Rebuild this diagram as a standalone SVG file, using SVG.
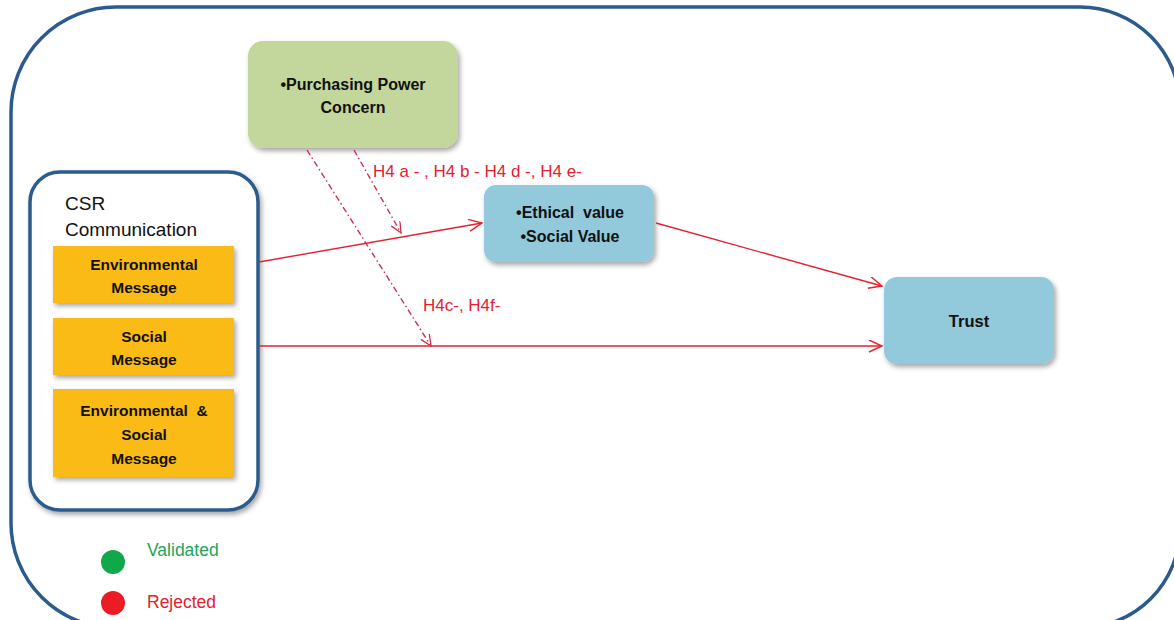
<svg xmlns="http://www.w3.org/2000/svg" width="1174" height="620" viewBox="0 0 1174 620">
<style>
.frame{fill:none;stroke:#2b5b8e;stroke-width:3.5}
.csr{fill:#ffffff;stroke:#2b5b8e;stroke-width:3.5}
.green{fill:#c3d69b}
.blue{fill:#92c9db}
.gold{fill:#fbbb14}
.bt{font-family:"Liberation Sans",Arial,sans-serif;font-weight:bold;fill:#111111;text-anchor:middle}
.rt{font-family:"Liberation Sans",Arial,sans-serif;fill:#111111}
.lab{font-family:"Liberation Sans",Arial,sans-serif;font-size:17px;fill:#e5202f}
.leg{font-family:"Liberation Sans",Arial,sans-serif;font-size:17.5px}
.solid{fill:none;stroke:#e5202f;stroke-width:1.4}
.dd{fill:none;stroke:#c8324e;stroke-width:1.4;stroke-dasharray:6 3 1.5 3}
</style>
<defs>
<filter id="sh" x="-10%" y="-10%" width="125%" height="130%">
<feDropShadow dx="2" dy="3" stdDeviation="2.5" flood-color="#000" flood-opacity="0.35"/>
</filter>
<marker id="ar" markerWidth="16" markerHeight="14" refX="14" refY="6" orient="auto" markerUnits="userSpaceOnUse">
<path d="M1,0 L14,6 L1,12" fill="none" stroke="#e5202f" stroke-width="1.4"/>
</marker>
<marker id="ard" markerWidth="14" markerHeight="12" refX="12" refY="5" orient="auto" markerUnits="userSpaceOnUse">
<path d="M1,0 L12,5 L1,10" fill="none" stroke="#c8324e" stroke-width="1.3"/>
</marker>
</defs>
<rect width="1174" height="620" fill="#ffffff"/>
<path class="frame" d="M11,112 A105,105 0 0 1 116,7 L1080,7 A100,100 0 0 1 1180,107 L1180,528 A100,100 0 0 1 1080,628 L116,628 A105,105 0 0 1 11,523 Z"/>

<g id="purchasing-power">
<rect class="green" x="248" y="41" width="210" height="107" rx="15" filter="url(#sh)"/>
<text class="bt" font-size="16" x="353" y="90">•Purchasing Power</text>
<text class="bt" font-size="16" x="353" y="113">Concern</text>
</g>

<g id="csr-communication">
<rect class="csr" x="30" y="172" width="228" height="338" rx="30" filter="url(#sh)"/>
<text class="rt" font-size="19" x="65" y="210">CSR</text>
<text class="rt" font-size="19" x="65" y="236">Communication</text>
</g>

<g id="environmental-message">
<rect class="gold" x="53" y="246" width="181" height="57" filter="url(#sh)"/>
<text class="bt" font-size="15.5" x="144" y="270">Environmental</text>
<text class="bt" font-size="15.5" x="144" y="293">Message</text>
</g>

<g id="social-message">
<rect class="gold" x="53" y="318" width="181" height="57" filter="url(#sh)"/>
<text class="bt" font-size="15.5" x="144" y="342">Social</text>
<text class="bt" font-size="15.5" x="144" y="365">Message</text>
</g>

<g id="env-social-message">
<rect class="gold" x="53" y="389" width="181" height="88" filter="url(#sh)"/>
<text class="bt" font-size="15.5" x="144" y="416" xml:space="preserve">Environmental  &amp;</text>
<text class="bt" font-size="15.5" x="144" y="440">Social</text>
<text class="bt" font-size="15.5" x="144" y="464">Message</text>
</g>

<g id="values">
<rect class="blue" x="484" y="185" width="170" height="77" rx="12" filter="url(#sh)"/>
<text class="bt" font-size="16" x="570" y="218" xml:space="preserve">•Ethical  value</text>
<text class="bt" font-size="16" x="570" y="242">•Social Value</text>
</g>

<g id="trust">
<rect class="blue" x="884" y="277" width="170" height="87" rx="13" filter="url(#sh)"/>
<text class="bt" font-size="16.5" x="969" y="327">Trust</text>
</g>

<g id="connectors">
<line class="solid" x1="259" y1="262" x2="482" y2="223" marker-end="url(#ar)"/>
<line class="solid" x1="259" y1="346" x2="882" y2="346" marker-end="url(#ar)"/>
<line class="solid" x1="656" y1="223" x2="882" y2="286" marker-end="url(#ar)"/>
<line class="dd" x1="307" y1="150" x2="431" y2="346" marker-end="url(#ard)"/>
<line class="dd" x1="354" y1="150" x2="401" y2="233" marker-end="url(#ard)"/>
<text class="lab" x="373" y="177">H4 a - , H4 b - H4 d -, H4 e-</text>
<text class="lab" x="423" y="311">H4c-, H4f-</text>
</g>

<g id="legend">
<circle cx="113" cy="562" r="12" fill="#10a94a"/>
<text class="leg" x="147" y="556" fill="#1aa55a">Validated</text>
<circle cx="113" cy="603" r="12" fill="#ec1c24"/>
<text class="leg" x="147" y="608" fill="#e5202f">Rejected</text>
</g>
</svg>
